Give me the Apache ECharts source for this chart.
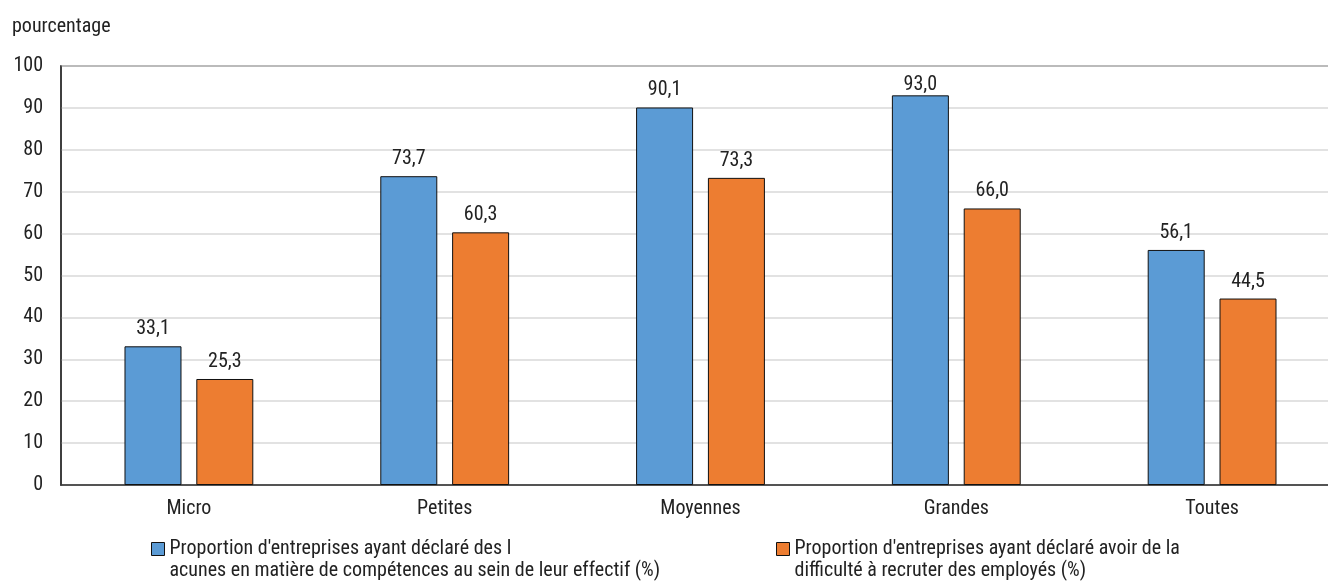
<!DOCTYPE html>
<html>
<head>
<meta charset="utf-8">
<script src="https://cdn.jsdelivr.net/npm/echarts@6/dist/echarts.min.js"></script>
<style>
  html, body { margin: 0; padding: 0; background: #ffffff; overflow: hidden; }
  #chart { width: 1328px; height: 582px; }
</style>
</head>
<body>
<div id="chart"></div>
<script>
// Company size categories
const categories = ['Micro', 'Petites', 'Moyennes', 'Grandes', 'Toutes'];
// Share of firms reporting skill gaps in their workforce (%)
const lacunes = [33.1, 73.7, 90.1, 93.0, 56.1];
// Share of firms reporting difficulty recruiting employees (%)
const recrutement = [25.3, 60.3, 73.3, 66.0, 44.5];
// Y axis ticks
const yTicks = [0, 10, 20, 30, 40, 50, 60, 70, 80, 90, 100];
// Legend labels, line by line
const legendLines = [
  ["Proportion d'entreprises ayant déclaré des l", "acunes en matière de compétences au sein de leur effectif (%)"],
  ["Proportion d'entreprises ayant déclaré avoir de la", "difficulté à recruter des employés (%)"]
];
const seriesNames = legendLines.map(l => l.join(''));

const FONT = "'Roboto Condensed', 'Liberation Sans Narrow', 'DejaVu Sans Condensed', Roboto, sans-serif";
const TXT = '#222222';
const BLUE = '#5B9BD5';
const ORANGE = '#ED7D31';
const FS = 20;

const GRID_TOP = 66, GRID_BOTTOM = 97, CHART_H = 582;
const PLOT_H = CHART_H - GRID_TOP - GRID_BOTTOM;
const yMax = yTicks[yTicks.length - 1];

const fmt = v => v.toFixed(1).replace('.', ',');

// Value labels sit 7px above the bar, but stay inside the plot near the top
function withLabels(values) {
  return values.map(v => {
    const room = (yMax - v) / yMax * PLOT_H;
    const d = Math.max(0, Math.min(7, room - 29));
    return { value: v, label: { distance: d } };
  });
}

// Legend text: a blank first line keeps the icon level with the first text line
function legendFor(idx, left) {
  return {
    data: [seriesNames[idx]],
    left: left,
    top: 516,
    padding: 0,
    itemWidth: 13,
    itemHeight: 13,
    icon: 'rect',
    selectedMode: false,
    itemStyle: { borderColor: '#111', borderWidth: 1 },
    formatter: name => ' \n' + legendLines[seriesNames.indexOf(name)].join('\n'),
    textStyle: { fontFamily: FONT, fontSize: FS, color: TXT, lineHeight: 22 }
  };
}

const barLabel = {
  show: true, position: 'top', fontFamily: FONT, fontSize: FS, color: TXT,
  formatter: p => fmt(p.value)
};

const chart = echarts.init(document.getElementById('chart'), null, { renderer: 'canvas' });
chart.setOption({
  animation: false,
  textStyle: { fontFamily: FONT },
  title: {
    text: 'pourcentage',
    left: 12, top: 17, padding: 0,
    textStyle: { fontFamily: FONT, fontSize: FS, fontWeight: 'normal', color: TXT }
  },
  // The plot runs past the right edge of the canvas
  grid: {
    left: 61, width: 1279, top: GRID_TOP, bottom: GRID_BOTTOM,
    outerBoundsMode: 'none',
    show: true, borderColor: '#333333', borderWidth: 1.5,
    containLabel: false
  },
  legend: [legendFor(0, 151), legendFor(1, 776)],
  xAxis: {
    type: 'category',
    data: categories,
    axisLine: { lineStyle: { color: '#333333', width: 1.5 } },
    axisTick: { show: false },
    axisLabel: { fontFamily: FONT, fontSize: FS, color: TXT, margin: 14 }
  },
  yAxis: {
    type: 'value',
    min: yTicks[0], max: yMax, interval: yTicks[1] - yTicks[0],
    axisLine: { show: true, lineStyle: { color: '#333333', width: 1.5 } },
    axisTick: { show: false },
    splitLine: { lineStyle: { color: '#d9d9d9', width: 1.5 } },
    axisLabel: { fontFamily: FONT, fontSize: FS, color: TXT, margin: 18 }
  },
  series: [
    {
      name: seriesNames[0], type: 'bar', data: withLabels(lacunes),
      barWidth: 57, barGap: '26%',
      itemStyle: { color: BLUE, borderColor: '#111', borderWidth: 1 },
      label: barLabel
    },
    {
      name: seriesNames[1], type: 'bar', data: withLabels(recrutement),
      barWidth: 57, barGap: '26%',
      itemStyle: { color: ORANGE, borderColor: '#111', borderWidth: 1 },
      label: barLabel
    }
  ]
});
</script>
</body>
</html>
